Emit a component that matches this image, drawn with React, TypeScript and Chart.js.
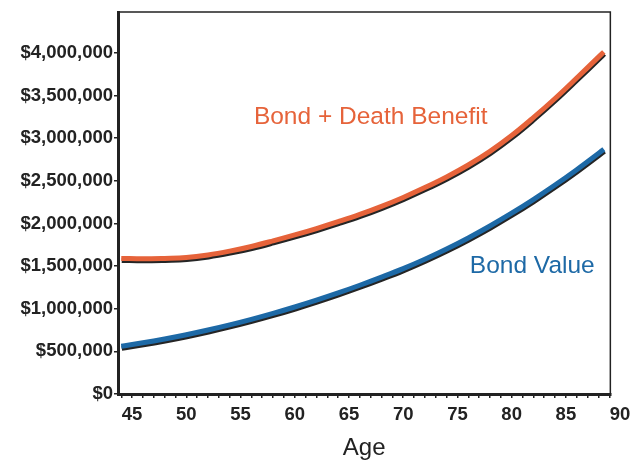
import { useEffect, useRef } from 'react';
import { Chart, registerables } from 'chart.js';

Chart.register(...registerables);

// ---- data ----
const ages = [44, 46, 48, 50, 52, 54, 56, 58, 60, 62, 64, 66, 68, 70, 72, 74, 76, 78, 80, 82, 84, 86, 88, 88.5];
const bondPlusDeathBenefit = [
  1590000, 1585000, 1590000, 1600000, 1630000, 1675000, 1730000, 1795000, 1865000, 1940000, 2020000, 2105000,
  2200000, 2305000, 2420000, 2545000, 2685000, 2845000, 3030000, 3240000, 3465000, 3705000, 3950000, 4010000,
];
const bondValue = [
  560000, 600000, 645000, 695000, 750000, 810000, 875000, 945000, 1020000, 1100000, 1185000, 1275000,
  1370000, 1470000, 1580000, 1700000, 1830000, 1970000, 2120000, 2280000, 2450000, 2630000, 2820000, 2870000,
];
const yTickValues = [0, 500000, 1000000, 1500000, 2000000, 2500000, 3000000, 3500000, 4000000];
const xTickValues = [
  44, 45, 46, 47, 48, 49, 50, 51, 52, 53, 54, 55, 56, 57, 58, 59, 60, 61, 62, 63, 64, 65, 66, 67,
  68, 69, 70, 71, 72, 73, 74, 75, 76, 77, 78, 79, 80, 81, 82, 83, 84, 85, 86, 87, 88, 89, 90,
];
const xLabeledTicks = [45, 50, 55, 60, 65, 70, 75, 80, 85, 90];
const seriesNames = ['Bond + Death Benefit', 'Bond Value'];
const xTitle = 'Age';

const ORANGE = '#E6633A';
const BLUE = '#1D69A6';
const INK = '#222222';
const TICK_FONT = { family: '"Liberation Sans", Arial, sans-serif', size: 18.5, weight: 'bold' as const };

const lineShadow = {
  id: 'lineShadow',
  beforeDatasetDraw(chart: any) {
    const ctx = chart.ctx;
    ctx.save();
    ctx.shadowColor = 'rgba(25,25,25,0.95)';
    ctx.shadowBlur = 0;
    ctx.shadowOffsetX = 0.5;
    ctx.shadowOffsetY = 2;
  },
  afterDatasetDraw(chart: any) {
    chart.ctx.restore();
  },
};

const frameAndLabels = {
  id: 'frameAndLabels',
  afterDraw(chart: any) {
    const { ctx, chartArea } = chart;
    const xs = chart.scales.x;
    const ys = chart.scales.y;
    ctx.save();
    ctx.strokeStyle = INK;
    ctx.lineWidth = 1.5;
    ctx.beginPath();
    ctx.moveTo(chartArea.left, chartArea.top);
    ctx.lineTo(chartArea.right, chartArea.top);
    ctx.lineTo(chartArea.right, chartArea.bottom);
    ctx.stroke();

    ctx.font = '24.5px "Liberation Sans", Arial, sans-serif';
    ctx.textAlign = 'center';
    ctx.textBaseline = 'middle';
    ctx.fillStyle = ORANGE;
    ctx.fillText(seriesNames[0], xs.getPixelForValue(67.0), ys.getPixelForValue(3250000));
    ctx.fillStyle = BLUE;
    ctx.fillText(seriesNames[1], xs.getPixelForValue(81.9), ys.getPixelForValue(1500000));
    ctx.restore();
  },
};

export default function App() {
  const ref = useRef<HTMLCanvasElement | null>(null);

  useEffect(() => {
    if (!ref.current) return;
    const chart = new Chart(ref.current, {
      type: 'line',
      data: {
        datasets: [
          {
            label: seriesNames[0],
            data: ages.map((a, i) => ({ x: a, y: bondPlusDeathBenefit[i] })),
            borderColor: ORANGE,
            borderWidth: 5,
            pointRadius: 0,
            tension: 0.4,
          },
          {
            label: seriesNames[1],
            data: ages.map((a, i) => ({ x: a, y: bondValue[i] })),
            borderColor: BLUE,
            borderWidth: 5,
            pointRadius: 0,
            tension: 0.4,
          },
        ],
      },
      options: {
        animation: false,
        responsive: true,
        maintainAspectRatio: false,
        layout: { padding: { left: 0, top: 10, right: 20, bottom: 0 } },
        plugins: { legend: { display: false }, tooltip: { enabled: false } },
        scales: {
          x: {
            type: 'linear',
            min: 43.7,
            max: 89.1,
            afterBuildTicks: (scale: any) => {
              scale.ticks = xTickValues.map((v) => ({ value: v }));
            },
            afterFit: (scale: any) => {
              scale.height = 72;
            },
            ticks: {
              autoSkip: false,
              maxRotation: 0,
              padding: 6,
              color: INK,
              font: TICK_FONT,
              callback: (v: any) => (xLabeledTicks.includes(Number(v)) ? String(v) : ''),
            },
            grid: {
              drawOnChartArea: false,
              drawTicks: true,
              tickLength: 4,
              lineWidth: 1.5,
              color: (c: any) => (c.tick && c.tick.value > 89.1 ? 'rgba(0,0,0,0)' : INK),
            },
            border: { display: true, width: 3, color: INK },
            title: {
              display: true,
              text: xTitle,
              color: INK,
              font: { family: '"Liberation Sans", Arial, sans-serif', size: 24 },
              padding: { top: 0, bottom: 3 },
            },
          },
          y: {
            type: 'linear',
            min: 0,
            max: 4478000,
            afterBuildTicks: (scale: any) => {
              scale.ticks = yTickValues.map((v) => ({ value: v }));
            },
            afterFit: (scale: any) => {
              scale.width = 118;
            },
            ticks: {
              padding: 1,
              color: INK,
              font: TICK_FONT,
              callback: (v: any) => '$' + Number(v).toLocaleString('en-US'),
            },
            grid: {
              drawOnChartArea: false,
              drawTicks: true,
              tickLength: 4,
              lineWidth: 1.5,
              color: INK,
            },
            border: { display: true, width: 3, color: INK },
          },
        },
      },
      plugins: [lineShadow, frameAndLabels],
    } as any);
    return () => chart.destroy();
  }, []);

  return (
    <div style={{ position: 'absolute', left: 0, top: 0, width: 636, height: 466, background: '#fff' }}>
      <canvas ref={ref} />
    </div>
  );
}
